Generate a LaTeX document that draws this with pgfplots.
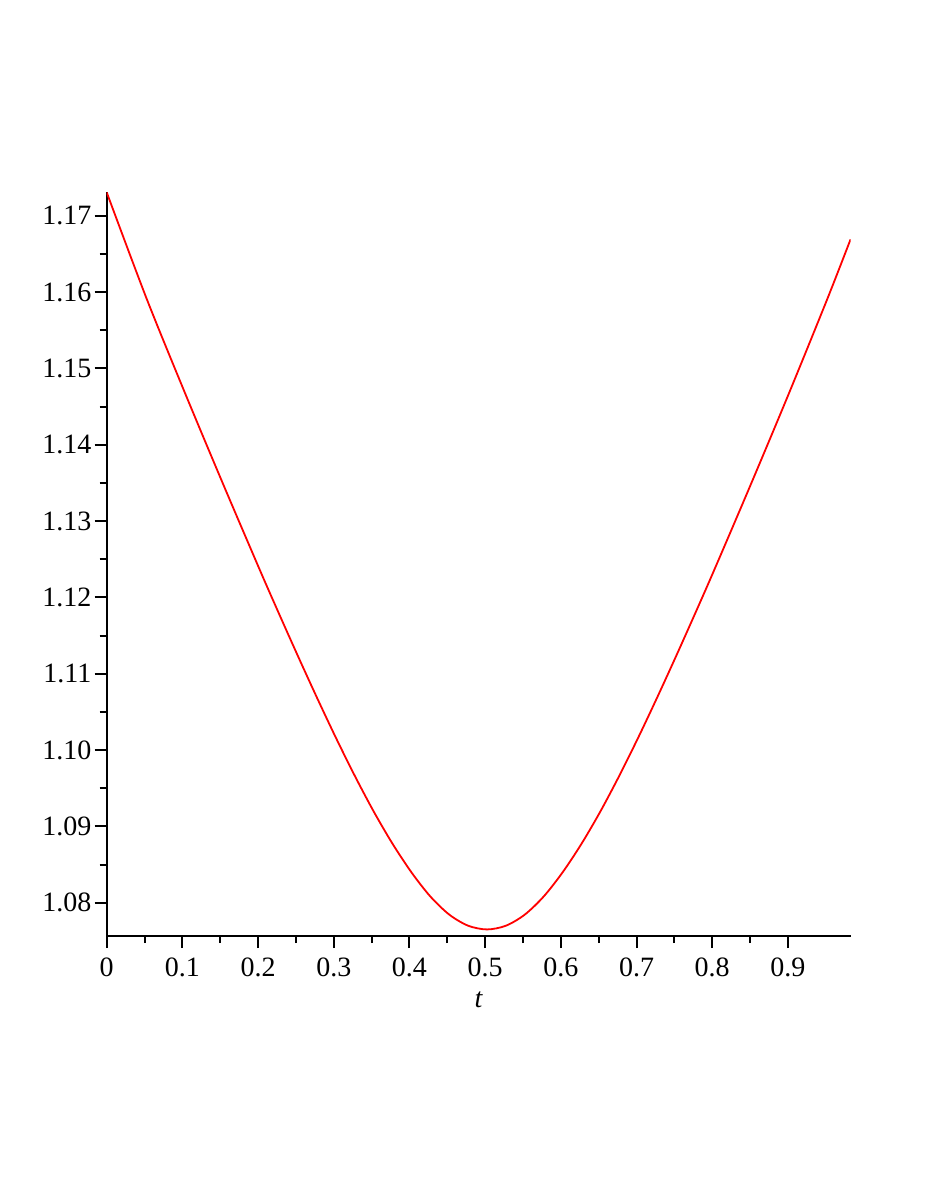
\documentclass[border=0pt]{standalone}
\usepackage{fontspec}
\setmainfont{Liberation Serif}
\usepackage{pgfplots}
\pgfplotsset{compat=1.18}
\begin{document}
\fontsize{14}{16}\selectfont
\begin{tikzpicture}
\useasboundingbox[fill=white] (-53.35pt,-131.5pt) rectangle (409.65pt,468pt);
\begin{axis}[
  at={(0pt,0pt)}, anchor=south west,
  width=372pt, height=371.85pt, scale only axis,
  xmin=0, xmax=0.983, ymin=1.07564, ymax=1.17307,
  axis lines=left,
  axis line style={-, line width=1pt, black},
  tick align=outside,
  major tick length=6pt, minor tick length=3.5pt,
  every tick/.style={black, line width=1pt},
  minor tick num=1,
  xtick={0,0.1,0.2,0.3,0.4,0.5,0.6,0.7,0.8,0.9},
  ytick={1.08,1.09,1.10,1.11,1.12,1.13,1.14,1.15,1.16,1.17},
  /pgf/number format/assume math mode=true,
  xticklabel style={/pgf/number format/.cd, fixed, precision=1},
  yticklabel style={inner sep=1.5pt, /pgf/number format/.cd, fixed, fixed zerofill, precision=2},
  tick label style={font=\fontsize{14}{16}\selectfont},
  label style={font=\fontsize{14}{16}\selectfont},
  xlabel={\textit{t}},
  xlabel style={yshift=2pt},
]
\addplot[red, line width=0.9pt, smooth, tension=0.5] coordinates {
(0, 1.17307)
(0.0525, 1.15920)
(0.1025, 1.14700)
(0.1525, 1.13515)
(0.2025, 1.12355)
(0.2275, 1.11790)
(0.2525, 1.11235)
(0.2775, 1.10693)
(0.3025, 1.10168)
(0.3275, 1.09668)
(0.3525, 1.09200)
(0.3775, 1.08775)
(0.4025, 1.08400)
(0.4275, 1.08083)
(0.4525, 1.07845)
(0.4775, 1.07699)
(0.5025, 1.07650)
(0.5275, 1.07699)
(0.5525, 1.07845)
(0.5775, 1.08083)
(0.6025, 1.08400)
(0.6275, 1.08775)
(0.6525, 1.09200)
(0.6775, 1.09668)
(0.7025, 1.10168)
(0.7275, 1.10693)
(0.7525, 1.11235)
(0.7775, 1.11790)
(0.8025, 1.12355)
(0.8525, 1.13515)
(0.9025, 1.14700)
(0.9525, 1.15920)
(0.9828, 1.16691)
};
\end{axis}
\end{tikzpicture}
\end{document}
